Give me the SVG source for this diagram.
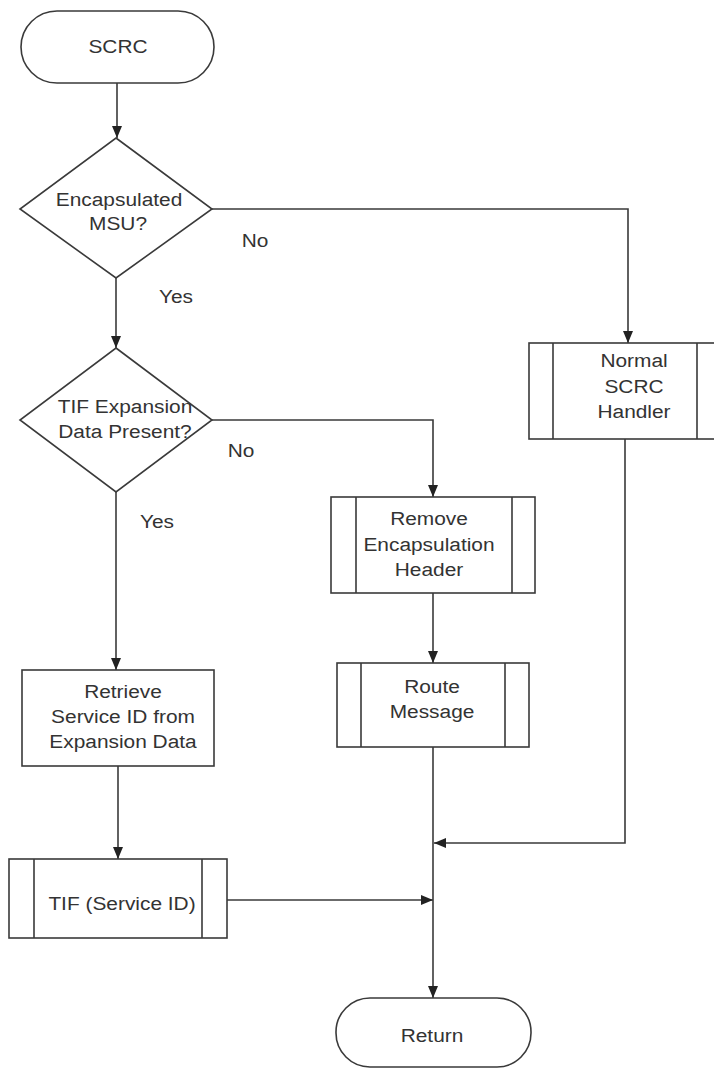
<svg xmlns="http://www.w3.org/2000/svg" width="714" height="1069" viewBox="0 0 714 1069">
<style>
.s{fill:#fff;stroke:#3a3a3a;stroke-width:1.6}
.l{fill:none;stroke:#3a3a3a;stroke-width:1.6}
.c{fill:none;stroke:#3a3a3a;stroke-width:1.6;marker-end:url(#ah)}
text{font-family:"Liberation Sans",Arial,sans-serif;font-size:18px;fill:#333;text-anchor:middle}
</style>
<defs>
<marker id="ah" markerUnits="userSpaceOnUse" markerWidth="12" markerHeight="10" refX="12" refY="5" orient="auto">
<path d="M0,0 L12,5 L0,10 z" fill="#222"/>
</marker>
</defs>
<rect width="714" height="1069" fill="#fff"/>
<g id="connectors">
<path class="c" d="M117,83 V138"/>
<path class="c" d="M116,278 V348"/>
<path class="c" d="M212,209 H628 V343"/>
<path class="c" d="M212,420 H433 V497"/>
<path class="c" d="M116,492 V670"/>
<path class="c" d="M433,593 V663"/>
<path class="c" d="M118,766 V859"/>
<path class="c" d="M625,439 V843 H434"/>
<path class="c" d="M227,900 H433"/>
<path class="c" d="M433,747 V998"/>
</g>
<g id="labels">
<text transform="translate(255,247) scale(1.16,1)">No</text>
<text transform="translate(176,303) scale(1.16,1)">Yes</text>
<text transform="translate(241,457) scale(1.16,1)">No</text>
<text transform="translate(157,528) scale(1.16,1)">Yes</text>
</g>
<g id="scrc">
<rect class="s" x="21" y="11" width="193" height="72" rx="36" ry="36"/>
<text transform="translate(118,53) scale(1.16,1)">SCRC</text>
</g>
<g id="encapsulated">
<polygon class="s" points="116,138 212,209 116,278 20,209"/>
<text transform="translate(119,206) scale(1.16,1)">Encapsulated</text>
<text transform="translate(118,230) scale(1.16,1)">MSU?</text>
</g>
<g id="tif-present">
<polygon class="s" points="116,348 212,420 116,492 20,420"/>
<text transform="translate(125,413) scale(1.16,1)">TIF Expansion</text>
<text transform="translate(125,438) scale(1.16,1)">Data Present?</text>
</g>
<g id="normal">
<rect class="s" x="529" y="343" width="192" height="96"/>
<path class="l" d="M553,343 V439 M697,343 V439"/>
<text transform="translate(634,367) scale(1.16,1)">Normal</text>
<text transform="translate(634,393) scale(1.16,1)">SCRC</text>
<text transform="translate(634,418) scale(1.16,1)">Handler</text>
</g>
<g id="remove">
<rect class="s" x="331" y="497" width="204" height="96"/>
<path class="l" d="M356,497 V593 M512,497 V593"/>
<text transform="translate(429,525) scale(1.16,1)">Remove</text>
<text transform="translate(429,551) scale(1.16,1)">Encapsulation</text>
<text transform="translate(429,576) scale(1.16,1)">Header</text>
</g>
<g id="route">
<rect class="s" x="337" y="663" width="192" height="84"/>
<path class="l" d="M361,663 V747 M505,663 V747"/>
<text transform="translate(432,693) scale(1.16,1)">Route</text>
<text transform="translate(432,718) scale(1.16,1)">Message</text>
</g>
<g id="retrieve">
<rect class="s" x="22" y="670" width="192" height="96"/>
<text transform="translate(123,698) scale(1.16,1)">Retrieve</text>
<text transform="translate(123,723) scale(1.16,1)">Service ID from</text>
<text transform="translate(123,748) scale(1.16,1)">Expansion Data</text>
</g>
<g id="tif">
<rect class="s" x="9" y="859" width="218" height="79"/>
<path class="l" d="M34,859 V938 M202,859 V938"/>
<text transform="translate(122,910) scale(1.16,1)">TIF (Service ID)</text>
</g>
<g id="return">
<rect class="s" x="336" y="998" width="195" height="69" rx="34" ry="34"/>
<text transform="translate(432,1042) scale(1.16,1)">Return</text>
</g>
</svg>
